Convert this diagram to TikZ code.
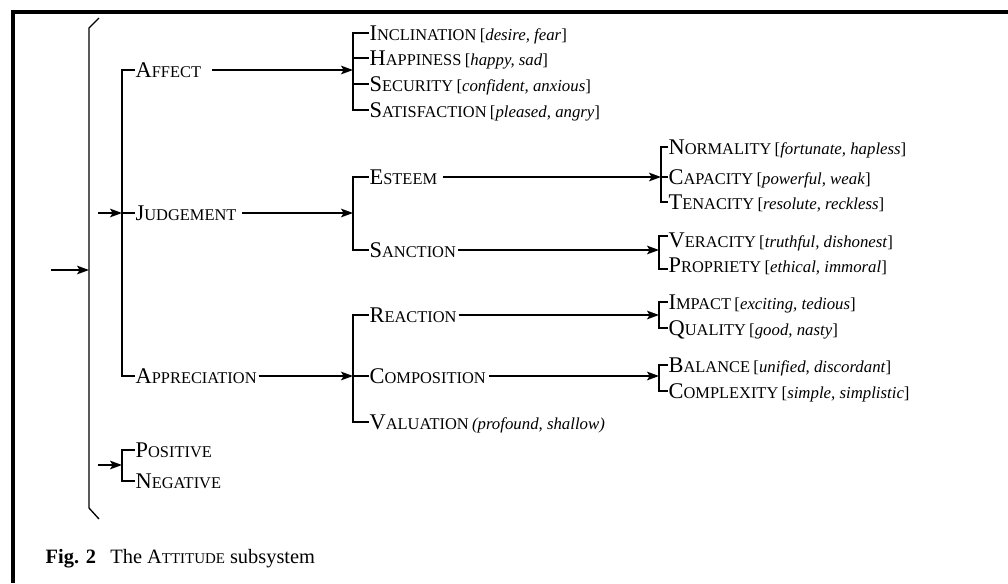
\documentclass[tikz,border=0pt]{standalone}
\usepackage{fontspec}
\setmainfont{Liberation Serif}
\usetikzlibrary{arrows.meta}
\newcommand{\scA}[2]{{\fontsize{16.8}{18}\selectfont #1}{\fontsize{12.3}{14}\selectfont #2}}
\newcommand{\exs}[1]{{\fontsize{12.6}{14}\selectfont[\textit{#1}]}}
\begin{document}
\begin{tikzpicture}[x=0.75pt,y=-0.75pt, line width=1pt,
  lbl/.style={inner sep=0pt, anchor=west, text height=12pt, text depth=1pt},
  arr/.style={-{Stealth[length=9pt,width=6.5pt,inset=2pt]}},
  frame/.style={line width=3pt, miter limit=10}]
\useasboundingbox (0,0) rectangle (1008,583);
\fill[white] (0,0) rectangle (1008,583);
\draw[frame] (12.5,583) -- (12.5,12) -- (1008,12);

% level 1
\node[lbl] (affect) at (135,70)  {\scA{A}{FFECT}};
\node[lbl] (judge)  at (135,213) {\scA{J}{UDGEMENT}};
\node[lbl] (apprec) at (135,376) {\scA{A}{PPRECIATION}};
\node[lbl] (pos)    at (135,450) {\scA{P}{OSITIVE}};
\node[lbl] (neg)    at (135,481) {\scA{N}{EGATIVE}};

% level 2
\node[lbl] (incl) at (369,33)  {\scA{I}{NCLINATION} \exs{desire, fear}};
\node[lbl] (happ) at (369,58)  {\scA{H}{APPINESS} \exs{happy, sad}};
\node[lbl] (secu) at (369,84)  {\scA{S}{ECURITY} \exs{confident, anxious}};
\node[lbl] (sati) at (369,110) {\scA{S}{ATISFACTION} \exs{pleased, angry}};
\node[lbl] (esteem) at (369,177) {\scA{E}{STEEM}};
\node[lbl] (sanct)  at (369,250) {\scA{S}{ANCTION}};
\node[lbl] (react)  at (369,315) {\scA{R}{EACTION}};
\node[lbl] (compo)  at (369,376) {\scA{C}{OMPOSITION}};
\node[lbl] (valu)   at (369,422) {\scA{V}{ALUATION} {\fontsize{12.6}{14}\selectfont\textit{(profound, shallow)}}};

% level 3
\node[lbl] (norm) at (668,147) {\scA{N}{ORMALITY} \exs{fortunate, hapless}};
\node[lbl] (capa) at (668,177) {\scA{C}{APACITY} \exs{powerful, weak}};
\node[lbl] (tena) at (668,202) {\scA{T}{ENACITY} \exs{resolute, reckless}};
\node[lbl] (vera) at (668,240) {\scA{V}{ERACITY} \exs{truthful, dishonest}};
\node[lbl] (prop) at (668,265) {\scA{P}{ROPRIETY} \exs{ethical, immoral}};
\node[lbl] (impa) at (668,302) {\scA{I}{MPACT} \exs{exciting, tedious}};
\node[lbl] (qual) at (668,328) {\scA{Q}{UALITY} \exs{good, nasty}};
\node[lbl] (bala) at (668,365) {\scA{B}{ALANCE} \exs{unified, discordant}};
\node[lbl] (comp) at (668,391) {\scA{C}{OMPLEXITY} \exs{simple, simplistic}};

% caption
\node[anchor=base west, inner sep=0pt] (cap) at (45,563)
  {\fontsize{15.3}{17}\selectfont\textbf{Fig. 2}\hspace{0.7em}The A{\fontsize{11.2}{13}\selectfont TTITUDE} subsystem};

% bracket coordinates
\coordinate (b1) at (89,270);
\coordinate (rootin) at (51,270);
\coordinate (b2) at (122,213);
\coordinate (jin) at (98,213);
\coordinate (bpn) at (122,465);
\coordinate (pnin) at (98,465);
\coordinate (b3) at (353,0);
\coordinate (b4) at (661,0);
\coordinate (b5) at (659,0);

% big bracket
\draw (99,18) -- (89,28) -- (89,508) -- (99,519);
\draw[arr] (rootin) -- (b1);

% bracket 2
\draw (affect.west) -- (affect.west -| b2) |- (apprec.west);
\draw (judge.west) -- (b2);
\draw[arr] (jin) -- (b2);

% positive / negative
\draw (pos.west) -- (pos.west -| bpn) |- (neg.west);
\draw[arr] (pnin) -- (bpn);

% affect subsystem
\draw (incl.west) -- (incl.west -| b3) |- (sati.west);
\draw (happ.west) -- (happ.west -| b3);
\draw (secu.west) -- (secu.west -| b3);
\draw[arr] ([xshift=8pt]affect.east) -- (affect.east -| b3);

% judgement subsystem
\draw (esteem.west) -- (esteem.west -| b3) |- (sanct.west);
\draw[arr] ([xshift=4pt]judge.east) -- (judge.east -| b3);

% appreciation subsystem
\draw (react.west) -- (react.west -| b3) |- (valu.west);
\draw (compo.west) -- (compo.west -| b3);
\draw[arr] ([xshift=1pt]apprec.east) -- (apprec.east -| b3);

% esteem
\draw (norm.west) -- (norm.west -| b4) |- (tena.west);
\draw (capa.west) -- (capa.west -| b4);
\draw[arr] ([xshift=4pt]esteem.east) -- (esteem.east -| b4);

% sanction
\draw ([yshift=3pt]vera.west) -- ([yshift=3pt]vera.west -| b5) |- ([yshift=-3pt]prop.west);
\draw[arr] ([xshift=1pt]sanct.east) -- (sanct.east -| b5);

% reaction
\draw (impa.west) -- (impa.west -| b5) |- (qual.west);
\draw[arr] ([xshift=1pt]react.east) -- (react.east -| b5);

% composition
\draw (bala.west) -- (bala.west -| b5) |- (comp.west);
\draw[arr] ([xshift=2pt]compo.east) -- (compo.east -| b5);
\end{tikzpicture}
\end{document}
